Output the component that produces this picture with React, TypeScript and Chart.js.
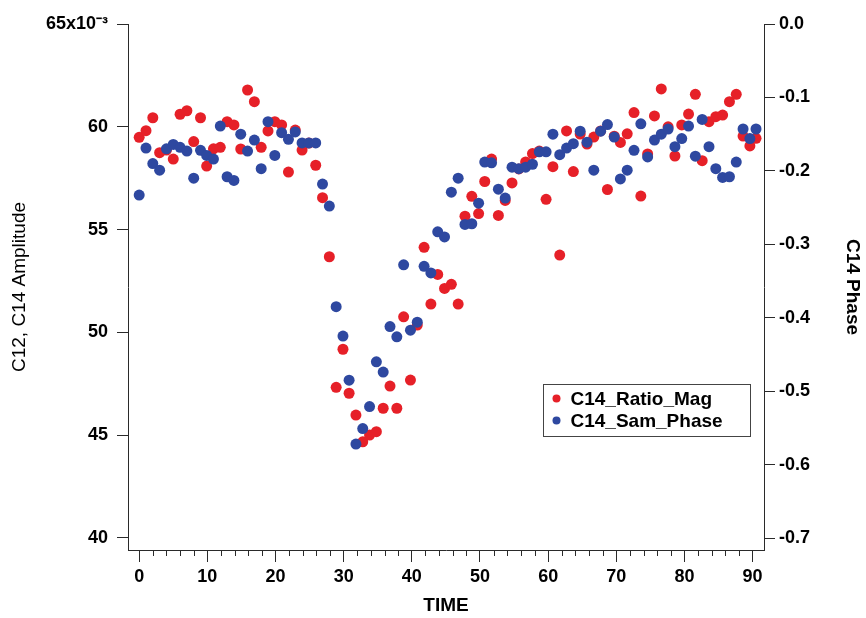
import React, { useEffect, useRef } from 'react';
import { Chart, registerables } from 'chart.js';

Chart.register(...registerables);

// ---------- data ----------
const TIME = [
  0, 1.0, 2.0, 3.0, 4.0, 5.0, 6.0, 7.0, 8.0, 9.0,
  9.9, 10.9, 11.9, 12.9, 13.9, 14.9, 15.9, 16.9, 17.9, 18.9,
  19.9, 20.9, 21.9, 22.9, 23.9, 24.9, 25.9, 26.9, 27.9, 28.9,
  29.9, 30.8, 31.8, 32.8, 33.8, 34.8, 35.8, 36.8, 37.8, 38.8,
  39.8, 40.8, 41.8, 42.8, 43.8, 44.8, 45.8, 46.8, 47.8, 48.8,
  49.8, 50.7, 51.7, 52.7, 53.7, 54.7, 55.7, 56.7, 57.7, 58.7,
  59.7, 60.7, 61.7, 62.7, 63.7, 64.7, 65.7, 66.7, 67.7, 68.7,
  69.7, 70.6, 71.6, 72.6, 73.6, 74.6, 75.6, 76.6, 77.6, 78.6,
  79.6, 80.6, 81.6, 82.6, 83.6, 84.6, 85.6, 86.6, 87.6, 88.6,
  89.6, 90.5,
];

// C14_Ratio_Mag, in units of 10^-3 (left axis)
const C14_RATIO_MAG = [
  59.49, 59.81, 60.44, 58.74, 58.87, 58.43, 60.61, 60.78, 59.28, 60.44,
  58.09, 58.93, 59.0, 60.25, 60.09, 58.92, 61.79, 61.22, 59.0, 59.8,
  60.25, 60.09, 57.8, 59.84, 58.87, 59.21, 58.13, 56.55, 53.68, 47.33,
  49.18, 47.04, 45.98, 44.68, 45.01, 45.17, 46.31, 47.39, 46.31, 50.76,
  47.68, 50.36, 54.14, 51.38, 52.82, 52.14, 52.34, 51.38, 55.65, 56.62,
  55.78, 57.34, 58.43, 55.69, 56.42, 57.27, 57.95, 58.29, 58.7, 58.82,
  56.47, 58.06, 53.76, 59.8, 57.82, 59.65, 59.16, 59.5, 59.8, 56.95,
  59.54, 59.24, 59.66, 60.69, 56.63, 58.68, 60.53, 61.84, 60.0, 58.58,
  60.09, 60.62, 61.58, 58.35, 60.25, 60.49, 60.57, 61.22, 61.58, 59.55,
  59.07, 59.44,
];

// C14_Sam_Phase (right axis)
const C14_SAM_PHASE = [
  -0.233, -0.169, -0.19, -0.199, -0.17, -0.164, -0.168, -0.173, -0.21, -0.172,
  -0.179, -0.184, -0.139, -0.208, -0.213, -0.15, -0.173, -0.158, -0.197, -0.133,
  -0.179, -0.148, -0.157, -0.147, -0.162, -0.162, -0.162, -0.218, -0.248, -0.385,
  -0.425, -0.485, -0.572, -0.551, -0.521, -0.46, -0.474, -0.412, -0.426, -0.328,
  -0.417, -0.406, -0.33, -0.339, -0.283, -0.29, -0.229, -0.21, -0.273, -0.272,
  -0.244, -0.188, -0.189, -0.225, -0.237, -0.195, -0.197, -0.195, -0.191, -0.174,
  -0.174, -0.15, -0.178, -0.169, -0.163, -0.146, -0.161, -0.199, -0.146, -0.137,
  -0.154, -0.211, -0.199, -0.172, -0.136, -0.181, -0.158, -0.15, -0.143, -0.167,
  -0.156, -0.139, -0.18, -0.13, -0.167, -0.197, -0.209, -0.208, -0.188, -0.143,
  -0.156, -0.143,
];

const SERIES_NAMES = ['C14_Ratio_Mag', 'C14_Sam_Phase'];
const LEFT_TICKS = [65, 60, 55, 50, 45, 40];
const RIGHT_TICKS = [0, -0.1, -0.2, -0.3, -0.4, -0.5, -0.6, -0.7];
const X_TICKS = [0, 10, 20, 30, 40, 50, 60, 70, 80, 90];
const X_MINOR_TICKS = [
  2, 4, 6, 8, 12, 14, 16, 18, 22, 24, 26, 28, 32, 34, 36, 38, 42, 44, 46, 48,
  52, 54, 56, 58, 62, 64, 66, 68, 72, 74, 76, 78, 82, 84, 86, 88,
];
const LEFT_TOP_LABEL = '65x10\u207B\u00B3';
const X_TITLE = 'TIME';
const LEFT_TITLE = 'C12, C14 Amplitude';
const RIGHT_TITLE = 'C14 Phase';

// ---------- styles ----------
const W = 866;
const H = 618;
const RED = 'rgb(230,32,40)';
const BLUE = 'rgb(46,72,160)';
const AXIS = '#2a2a2a';
const FONT = '"Liberation Sans", Arial, sans-serif';

const overlayPlugin = {
  id: 'overlay',
  afterDraw(chart: any) {
    const { ctx, chartArea } = chart;
    const xs = chart.scales.x;
    ctx.save();
    // minor ticks on time axis
    ctx.strokeStyle = AXIS;
    ctx.lineWidth = 1;
    X_MINOR_TICKS.forEach((v) => {
      const px = Math.round(xs.getPixelForValue(v)) + 0.5;
      ctx.beginPath();
      ctx.moveTo(px, chartArea.bottom);
      ctx.lineTo(px, chartArea.bottom + 6);
      ctx.stroke();
    });
    // legend box
    const bx = 543.5;
    const by = 384.5;
    const bw = 207;
    const bh = 52;
    ctx.fillStyle = '#fff';
    ctx.fillRect(bx, by, bw, bh);
    ctx.strokeStyle = '#444';
    ctx.lineWidth = 1;
    ctx.strokeRect(bx, by, bw, bh);
    const colors = [RED, BLUE];
    ctx.font = `bold 19px ${FONT}`;
    ctx.textBaseline = 'middle';
    ctx.textAlign = 'left';
    SERIES_NAMES.forEach((name, i) => {
      const cy = by + 14 + i * 22;
      ctx.fillStyle = colors[i];
      ctx.beginPath();
      ctx.arc(bx + 13, cy, 4, 0, Math.PI * 2);
      ctx.fill();
      ctx.fillStyle = '#000';
      ctx.fillText(name, bx + 27, cy + 1);
    });
    ctx.restore();
  },
};

export default function App() {
  const canvasRef = useRef<HTMLCanvasElement | null>(null);

  useEffect(() => {
    if (!canvasRef.current) return;
    const tickFont = { family: FONT, size: 18, weight: 'bold' as const };
    const titleFont = { family: FONT, size: 19, weight: 'normal' as const };
    const boldTitleFont = { family: FONT, size: 19, weight: 'bold' as const };
    const chart = new Chart(canvasRef.current, {
      type: 'scatter',
      data: {
        datasets: [
          {
            label: SERIES_NAMES[0],
            data: TIME.map((t, i) => ({ x: t, y: C14_RATIO_MAG[i] })),
            yAxisID: 'y',
            backgroundColor: RED,
            borderWidth: 0,
            pointRadius: 5.5,
            order: 2,
          },
          {
            label: SERIES_NAMES[1],
            data: TIME.map((t, i) => ({ x: t, y: C14_SAM_PHASE[i] })),
            yAxisID: 'y1',
            backgroundColor: BLUE,
            borderWidth: 0,
            pointRadius: 5.5,
            order: 1,
          },
        ],
      },
      options: {
        responsive: false,
        animation: false,
        events: [],
        layout: { padding: { top: 24, left: 0, right: 0, bottom: 0 } },
        plugins: {
          legend: { display: false },
          tooltip: { enabled: false },
        },
        scales: {
          x: {
            type: 'linear',
            position: 'bottom',
            min: -1.64,
            max: 91.67,
            afterBuildTicks: (s: any) => {
              s.ticks = X_TICKS.map((v) => ({ value: v }));
            },
            afterFit: (s: any) => {
              s.height = 68;
            },
            grid: {
              drawOnChartArea: false,
              drawTicks: true,
              tickLength: 12,
              color: AXIS,
              tickColor: AXIS,
            },
            border: { display: true, color: AXIS, width: 1 },
            ticks: {
              font: tickFont,
              color: '#000',
              padding: 4,
              autoSkip: false,
              maxRotation: 0,
              callback: (v: any) => String(v),
            },
            title: {
              display: true,
              text: X_TITLE,
              font: boldTitleFont,
              color: '#000',
              padding: { top: 0, bottom: 1 },
            },
          },
          y: {
            type: 'linear',
            position: 'left',
            min: 39.416,
            max: 65,
            afterBuildTicks: (s: any) => {
              s.ticks = LEFT_TICKS.map((v) => ({ value: v }));
            },
            afterFit: (s: any) => {
              s.width = 128;
            },
            grid: {
              drawOnChartArea: false,
              drawTicks: true,
              tickLength: 11,
              color: AXIS,
              tickColor: AXIS,
            },
            border: { display: true, color: AXIS, width: 1 },
            ticks: {
              font: tickFont,
              color: '#000',
              padding: 9,
              autoSkip: false,
              callback: (v: any) => (v === 65 ? LEFT_TOP_LABEL : String(v)),
            },
            title: {
              display: true,
              text: LEFT_TITLE,
              font: titleFont,
              color: '#000',
              padding: { top: 8, bottom: 0 },
            },
          },
          y1: {
            type: 'linear',
            position: 'right',
            min: -0.7163,
            max: 0,
            afterBuildTicks: (s: any) => {
              s.ticks = RIGHT_TICKS.map((v) => ({ value: v }));
            },
            afterFit: (s: any) => {
              s.width = 102;
            },
            grid: {
              drawOnChartArea: false,
              drawTicks: true,
              tickLength: 11,
              color: AXIS,
              tickColor: AXIS,
            },
            border: { display: true, color: AXIS, width: 1 },
            ticks: {
              font: tickFont,
              color: '#000',
              padding: 4,
              autoSkip: false,
              callback: (v: any) => Number(v).toFixed(1),
            },
            title: {
              display: true,
              text: RIGHT_TITLE,
              font: boldTitleFont,
              color: '#000',
              padding: { top: 2, bottom: 0 },
            },
          },
        },
      },
      plugins: [overlayPlugin],
    } as any);
    return () => chart.destroy();
  }, []);

  return (
    <div style={{ position: 'absolute', left: 0, top: 0, width: W, height: H, background: '#fff' }}>
      <canvas ref={canvasRef} width={W} height={H} style={{ display: 'block', width: W, height: H }} />
    </div>
  );
}
